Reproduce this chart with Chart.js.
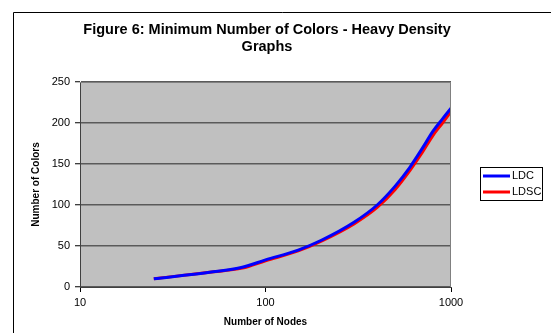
<!DOCTYPE html>
<html>
<head>
<meta charset="utf-8">
<script src="https://cdn.jsdelivr.net/npm/chart.js@4.4.1/dist/chart.umd.min.js"></script>
<style>
  body { margin: 0; background: #fff; }
  #wrap { width: 551px; height: 333px; }
</style>
</head>
<body>
<div id="wrap"><canvas id="canvasA" width="551" height="333"></canvas></div>
<script>
var titleLines = ['Figure 6: Minimum Number of Colors - Heavy Density', 'Graphs'];
var nodes = [25, 50, 75, 100, 150, 200, 300, 400, 500, 600, 700, 800, 900, 1000];
var ldc   = [10, 18, 24, 33, 45, 57, 79, 100, 123, 146, 169, 190, 205, 218];
var ldsc  = [10, 18, 23, 32, 44, 56, 77, 97, 119, 142, 164, 185, 200, 214];
var xTicks = [10, 100, 1000];
var yTicks = [0, 50, 100, 150, 200, 250];

var fontName = "'Liberation Sans', Arial, sans-serif";

function toPoints(xs, ys) {
  return xs.map(function (x, i) { return { x: x, y: ys[i] }; });
}

// frame, grey plot area, title and the boxed legend
var excelLook = {
  id: 'excelLook',
  beforeDraw: function (chart) {
    var c = chart.ctx, a = chart.chartArea;
    c.save();
    c.strokeStyle = '#000';
    c.lineWidth = 1;
    c.beginPath();
    c.moveTo(13.5, 340);
    c.lineTo(13.5, 12.5);
    c.lineTo(560, 12.5);
    c.stroke();
    c.fillStyle = '#c0c0c0';
    c.fillRect(a.left, a.top, a.right - a.left, a.bottom - a.top);
    c.restore();
  },
  afterDraw: function (chart) {
    var c = chart.ctx, a = chart.chartArea;
    c.save();
    // plot border top / right
    c.strokeStyle = '#808080';
    c.lineWidth = 1;
    c.beginPath();
    c.moveTo(a.left, a.top + 0.5);
    c.lineTo(a.right - 0.5, a.top + 0.5);
    c.lineTo(a.right - 0.5, a.bottom);
    c.stroke();

    c.fillStyle = '#000';
    c.font = 'bold 14.5px ' + fontName;
    c.textAlign = 'center';
    c.textBaseline = 'middle';
    titleLines.forEach(function (t, i) {
      c.fillText(t, 267, 30 + i * 17);
    });

    // legend
    var sets = chart.data.datasets;
    var bx = 480, by = 167, bw = 62, bh = 33;
    c.fillStyle = '#fff';
    c.fillRect(bx, by, bw, bh);
    c.strokeStyle = '#000';
    c.strokeRect(bx + 0.5, by + 0.5, bw, bh);
    c.font = '11px ' + fontName;
    c.textAlign = 'left';
    sets.forEach(function (d, i) {
      var y = 176 + i * 16;
      c.strokeStyle = d.borderColor;
      c.lineWidth = 3;
      c.beginPath();
      c.moveTo(483, y);
      c.lineTo(510, y);
      c.stroke();
      c.fillStyle = '#000';
      c.fillText(d.label, 512, y);
    });
    c.restore();
  }
};

var ctx = document.getElementById('canvasA').getContext('2d');
var figChart = new Chart(ctx, {
  type: 'line',
  data: {
    datasets: [
      {
        label: 'LDC',
        data: toPoints(nodes, ldc),
        borderColor: '#0000ff',
        backgroundColor: '#0000ff',
        borderWidth: 3,
        pointRadius: 0,
        cubicInterpolationMode: 'monotone'
      },
      {
        label: 'LDSC',
        data: toPoints(nodes, ldsc),
        borderColor: '#ff0000',
        backgroundColor: '#ff0000',
        borderWidth: 3,
        pointRadius: 0,
        cubicInterpolationMode: 'monotone'
      }
    ]
  },
  options: {
    responsive: false,
    animation: false,
    layout: { padding: { left: 13, top: 82, right: 100, bottom: 0 } },
    plugins: {
      legend: { display: false },
      title: { display: false },
      tooltip: { enabled: false }
    },
    scales: {
      x: {
        type: 'logarithmic',
        min: 10,
        max: 1000,
        afterBuildTicks: function (axis) {
          axis.ticks = xTicks.map(function (v) { return { value: v }; });
        },
        afterFit: function (axis) { axis.height = 46; },
        ticks: {
          color: '#000',
          font: { family: fontName, size: 11 },
          padding: 4,
          maxRotation: 0,
          autoSkip: false,
          callback: function (v) { return String(v); }
        },
        grid: { drawOnChartArea: false, drawTicks: true, tickLength: 5, color: '#000' },
        border: { color: '#404040', width: 1 },
        title: {
          display: true,
          text: 'Number of Nodes',
          color: '#000',
          font: { family: fontName, size: 10, weight: 'bold' },
          padding: { top: 0, bottom: 5 }
        }
      },
      y: {
        min: 0,
        max: 250,
        afterBuildTicks: function (axis) {
          axis.ticks = yTicks.map(function (v) { return { value: v }; });
        },
        afterFit: function (axis) { axis.width = 67; },
        ticks: {
          color: '#000',
          font: { family: fontName, size: 11 },
          padding: 5
        },
        grid: {
          color: '#5a5a5a',
          lineWidth: 1.5,
          drawTicks: true,
          tickLength: 5,
          tickColor: '#000',
          tickWidth: 1
        },
        border: { color: '#404040', width: 1 },
        title: {
          display: true,
          text: 'Number of Colors',
          color: '#000',
          font: { family: fontName, size: 10, weight: 'bold' },
          padding: { top: 17, bottom: 0 }
        }
      }
    }
  },
  plugins: [excelLook]
});
</script>
</body>
</html>
